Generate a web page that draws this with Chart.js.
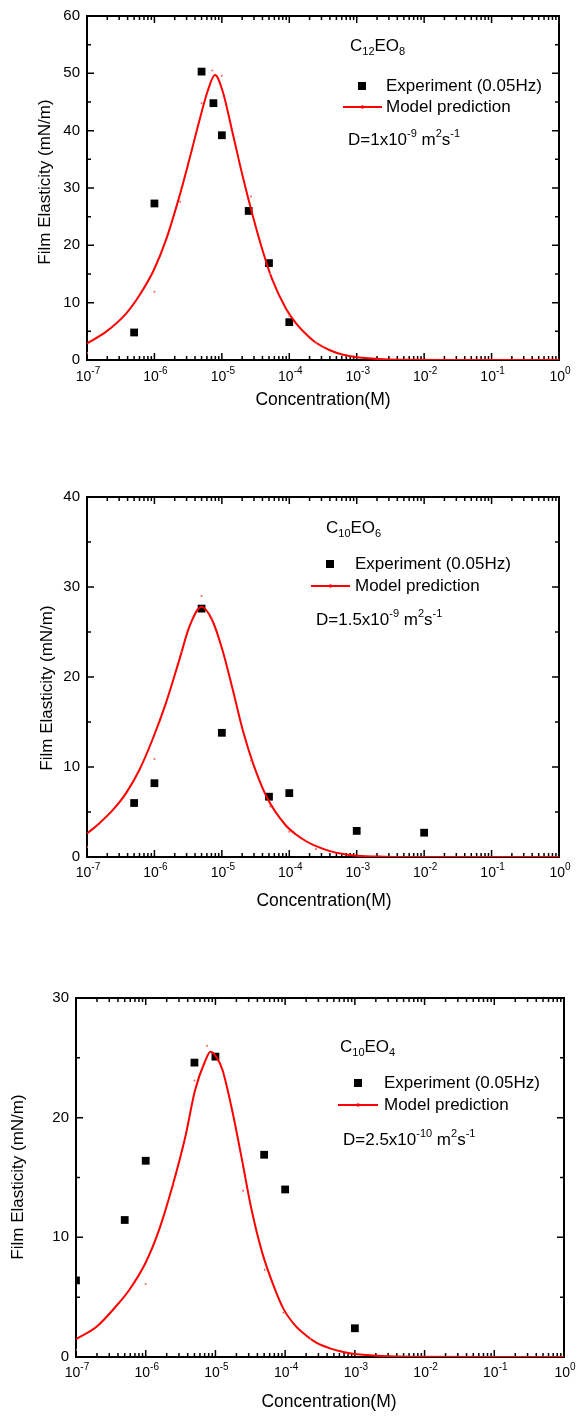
<!DOCTYPE html>
<html>
<head>
<meta charset="utf-8">
<script src="https://cdn.jsdelivr.net/npm/chart.js@4.4.1/dist/chart.umd.min.js"></script>
<style>
  html, body { margin: 0; padding: 0; background: #fff; }
  canvas { position: absolute; left: 0; }
</style>
</head>
<body>
<canvas id="grafico1" width="580" height="470" style="top:0"></canvas>
<canvas id="grafico2" width="580" height="470" style="top:470px"></canvas>
<canvas id="grafico3" width="580" height="476" style="top:940px"></canvas>
<script>
// Eixo x (log) comum aos três gráficos
const decadas = [-7, -6, -5, -4, -3, -2, -1, 0];

// C12EO8 - experimento
const expX1 = [5e-7, 1e-6, 5e-6, 7.5e-6, 1e-5, 2.5e-5, 5e-5, 1e-4];
const expY1 = [4.8, 27.3, 50.3, 44.8, 39.2, 26.0, 16.9, 6.6];
// C12EO8 - curva do modelo
const modX1 = [1e-7, 1.9e-7, 3.8e-7, 6e-7, 9.8e-7, 1.48e-6, 2.34e-6, 3.3e-6, 4.7e-6, 6.2e-6, 7.9e-6, 1.02e-5, 1.45e-5, 2.04e-5, 2.9e-5, 4e-5, 5.6e-5, 8.9e-5, 1.26e-4, 1.78e-4, 2.5e-4, 4e-4, 6.3e-4, 1e-3, 2.5e-3, 6.3e-3, 3.2e-2, 1e-1, 1];
const modY1 = [2.9, 4.9, 8.1, 11.3, 15.7, 20.9, 28.5, 35.0, 42.0, 47.0, 49.7, 47.0, 39.5, 32.0, 25.0, 19.2, 14.0, 9.0, 6.4, 4.5, 3.0, 1.7, 0.9, 0.5, 0.15, 0.05, 0.01, 0, 0];
// C12EO8 - pontos calculados do modelo
const ptsX1 = [1e-7, 1e-6, 2.4e-6, 5e-6, 7.2e-6, 1e-5, 2.7e-5, 5.2e-5, 1e-4, 2.5e-4];
const ptsY1 = [1.2, 11.9, 27.6, 44.8, 50.5, 49.6, 28.5, 15.1, 7.7, 2.9];

// C10EO6
const expX2 = [5e-7, 1e-6, 5e-6, 1e-5, 5e-5, 1e-4, 1e-3, 1e-2];
const expY2 = [6.0, 8.2, 27.6, 13.8, 6.7, 7.1, 2.9, 2.7];
const modX2 = [1e-7, 1.5e-7, 2.4e-7, 3.8e-7, 6e-7, 9.3e-7, 1.48e-6, 2.34e-6, 3.3e-6, 5e-6, 7.2e-6, 1.02e-5, 1.45e-5, 2.04e-5, 2.9e-5, 4.6e-5, 8.9e-5, 1.26e-4, 1.78e-4, 2.5e-4, 4e-4, 6.3e-4, 1e-3, 2.5e-3, 6.3e-3, 1e-1, 1];
const modY2 = [2.6, 3.7, 5.2, 7.1, 9.7, 13.0, 17.1, 21.9, 25.6, 27.8, 26.3, 23.0, 18.6, 14.1, 10.4, 6.7, 3.5, 2.5, 1.75, 1.2, 0.65, 0.33, 0.15, 0.04, 0.01, 0, 0];
const ptsX2 = [1e-7, 1e-6, 2.5e-6, 5e-6, 7.2e-6, 2.7e-5, 5.2e-5, 1e-4, 2.5e-4];
const ptsY2 = [1.1, 10.9, 22.8, 29.0, 26.5, 10.7, 5.6, 2.8, 0.9];

// C10EO4
const expX3 = [1e-7, 5e-7, 1e-6, 5e-6, 1e-5, 5e-5, 1e-4, 1e-3];
const expY3 = [6.4, 11.45, 16.4, 24.6, 25.1, 16.9, 14.0, 2.4];
const modX3 = [1e-7, 1.95e-7, 3.7e-7, 5.8e-7, 1e-6, 1.55e-6, 2.4e-6, 3.7e-6, 5.1e-6, 7.2e-6, 8.5e-6, 1.05e-5, 1.26e-5, 1.74e-5, 2.4e-5, 3.3e-5, 4.7e-5, 7.2e-5, 9.5e-5, 1.41e-4, 2e-4, 2.8e-4, 4.5e-4, 7.1e-4, 1e-3, 2.5e-3, 6.3e-3, 1e-1, 1];
const modY3 = [1.5, 2.5, 4.2, 5.6, 7.9, 10.6, 14.2, 18.4, 22.3, 24.8, 25.5, 25.0, 24.0, 20.6, 16.5, 12.3, 8.7, 5.6, 4.0, 2.6, 1.8, 1.2, 0.7, 0.4, 0.25, 0.08, 0.02, 0, 0];
const ptsX3 = [1e-7, 1e-6, 2.5e-6, 5e-6, 7.6e-6, 2.5e-5, 5.1e-5, 9.5e-5, 2.3e-4];
const ptsY3 = [0.6, 6.1, 14.3, 23.1, 26.0, 13.9, 7.3, 3.7, 1.5];

const FONTE = '"Liberation Sans", Arial, sans-serif';

function paraPontos(xs, ys) {
    return xs.map((x, i) => ({ x: x, y: ys[i] }));
}

// Texto com sub/sobrescritos: partes = [[texto, tamanho, deslocamentoY], ...]
function escrever(ctx, partes, x, y, alinhar) {
    let largura = 0;
    partes.forEach(p => {
        ctx.font = p[1] + 'px ' + FONTE;
        largura += ctx.measureText(p[0]).width;
    });
    let cx = x;
    if (alinhar === 'center') cx = x - largura / 2;
    if (alinhar === 'right') cx = x - largura;
    ctx.textAlign = 'left';
    ctx.textBaseline = 'middle';
    ctx.fillStyle = '#000';
    partes.forEach(p => {
        ctx.font = p[1] + 'px ' + FONTE;
        ctx.fillText(p[0], cx, y + (p[2] || 0));
        cx += ctx.measureText(p[0]).width;
    });
}

const pluginMoldura = {
    id: 'moldura',
    beforeDatasetsDraw(chart, args, op) {
        const ctx = chart.ctx;
        const a = chart.chartArea;
        const sx = chart.scales.x, sy = chart.scales.y;
        ctx.save();
        ctx.strokeStyle = '#000';
        ctx.lineWidth = 2;
        ctx.strokeRect(a.left, a.top, a.right - a.left, a.bottom - a.top);

        // marcas para dentro, nos quatro lados
        ctx.lineWidth = 1.5;
        ctx.beginPath();
        for (let v = 0; v <= op.yMax; v += op.yPasso / 2) {
            const y = sy.getPixelForValue(v);
            const len = (v % op.yPasso === 0) ? 7 : 4;
            ctx.moveTo(a.left, y); ctx.lineTo(a.left + len, y);
            ctx.moveTo(a.right, y); ctx.lineTo(a.right - len, y);
        }
        decadas.forEach(e => {
            for (let m = 1; m <= 9; m++) {
                const v = m * Math.pow(10, e);
                if (e === 0 && m > 1) break;
                const x = sx.getPixelForValue(v);
                const len = m === 1 ? 7 : 4;
                ctx.moveTo(x, a.bottom); ctx.lineTo(x, a.bottom - len);
                ctx.moveTo(x, a.top); ctx.lineTo(x, a.top + len);
            }
        });
        ctx.stroke();
        ctx.restore();
    },
    afterDraw(chart, args, op) {
        const ctx = chart.ctx;
        const a = chart.chartArea;
        const sx = chart.scales.x, sy = chart.scales.y;
        ctx.save();

        // rótulos do eixo y
        for (let v = 0; v <= op.yMax; v += op.yPasso) {
            escrever(ctx, [[String(v), 15]], a.left - 7, sy.getPixelForValue(v), 'right');
        }
        // rótulos do eixo x: 10 elevado ao expoente
        decadas.forEach(e => {
            escrever(ctx, [['10', 14], [String(e), 10, -6]], sx.getPixelForValue(Math.pow(10, e)) + 1, op.yRotX, 'center');
        });

        // títulos dos eixos
        escrever(ctx, [['Concentration(M)', 17.5]], op.tituloX[0], op.tituloX[1], 'center');
        ctx.save();
        ctx.translate(op.tituloY[0], op.tituloY[1]);
        ctx.rotate(-Math.PI / 2);
        escrever(ctx, [['Film Elasticity (mN/m)', 17]], 0, 0, 'center');
        ctx.restore();

        // nome do surfactante
        escrever(ctx, op.nome, op.posNome[0], op.posNome[1], 'left');

        // legenda
        const lg = op.legenda;
        ctx.fillStyle = '#000';
        ctx.fillRect(lg.quadrado[0] - 4, lg.quadrado[1] - 4, 8, 8);
        escrever(ctx, [['Experiment (0.05Hz)', 17]], lg.texto, lg.quadrado[1], 'left');
        ctx.strokeStyle = '#ff0000';
        ctx.lineWidth = 2;
        ctx.beginPath();
        ctx.moveTo(lg.linha[0], lg.linha[2]);
        ctx.lineTo(lg.linha[1], lg.linha[2]);
        ctx.stroke();
        ctx.fillStyle = '#ff0000';
        ctx.beginPath();
        ctx.arc((lg.linha[0] + lg.linha[1]) / 2, lg.linha[2], 1.8, 0, Math.PI * 2);
        ctx.fill();
        escrever(ctx, [['Model prediction', 17]], lg.texto, lg.linha[2], 'left');

        // coeficiente de difusão
        escrever(ctx, op.difusao, op.posDifusao[0], op.posDifusao[1], 'left');
        ctx.restore();
    }
};

function criarGrafico(id, exp, modelo, pontos, padding, extras) {
    return new Chart(document.getElementById(id), {
        type: 'scatter',
        data: {
            datasets: [
                {
                    label: 'Experiment (0.05Hz)',
                    data: exp,
                    pointStyle: 'rect',
                    pointRadius: 5.5,
                    backgroundColor: '#000',
                    borderColor: '#000',
                    borderWidth: 0,
                    clip: 0,
                    order: 2
                },
                {
                    label: 'Model prediction',
                    data: modelo,
                    showLine: true,
                    cubicInterpolationMode: 'monotone',
                    borderColor: '#ff0000',
                    borderWidth: 2,
                    pointRadius: 0,
                    order: 1
                },
                {
                    label: 'pontos do modelo',
                    data: pontos,
                    pointRadius: 1,
                    backgroundColor: '#ff6060',
                    borderColor: '#ff6060',
                    borderWidth: 0,
                    order: 0
                }
            ]
        },
        options: {
            responsive: false,
            animation: false,
            events: [],
            layout: { padding: padding },
            scales: {
                x: { type: 'logarithmic', min: 1e-7, max: 1, display: false },
                y: { min: 0, max: extras.yMax, display: false }
            },
            plugins: {
                legend: { display: false },
                tooltip: { enabled: false },
                moldura: extras
            }
        },
        plugins: [pluginMoldura]
    });
}

criarGrafico('grafico1', paraPontos(expX1, expY1), paraPontos(modX1, modY1), paraPontos(ptsX1, ptsY1),
    { left: 87, right: 21, top: 16, bottom: 110 },
    {
        yMax: 60, yPasso: 10, yRotX: 377,
        tituloX: [323, 400], tituloY: [45, 182],
        nome: [['C', 17], ['12', 11, 6], ['EO', 17], ['8', 11, 6]], posNome: [350, 46],
        legenda: { quadrado: [362, 86], texto: 386, linha: [343, 382, 107] },
        difusao: [['D=1x10', 17], ['-9', 11, -6], [' m', 17], ['2', 11, -6], ['s', 17], ['-1', 11, -6]],
        posDifusao: [348, 140]
    });

criarGrafico('grafico2', paraPontos(expX2, expY2), paraPontos(modX2, modY2), paraPontos(ptsX2, ptsY2),
    { left: 87, right: 21, top: 27, bottom: 83 },
    {
        yMax: 40, yPasso: 10, yRotX: 403,
        tituloX: [324, 431], tituloY: [47, 218],
        nome: [['C', 17], ['10', 11, 6], ['EO', 17], ['6', 11, 6]], posNome: [326, 58],
        legenda: { quadrado: [330, 94], texto: 355, linha: [311, 350, 116] },
        difusao: [['D=1.5x10', 17], ['-9', 11, -6], [' m', 17], ['2', 11, -6], ['s', 17], ['-1', 11, -6]],
        posDifusao: [316, 150]
    });

criarGrafico('grafico3', paraPontos(expX3, expY3), paraPontos(modX3, modY3), paraPontos(ptsX3, ptsY3),
    { left: 76, right: 16, top: 58, bottom: 59 },
    {
        yMax: 30, yPasso: 10, yRotX: 433,
        tituloX: [329, 462], tituloY: [18, 237],
        nome: [['C', 17], ['10', 11, 6], ['EO', 17], ['4', 11, 6]], posNome: [340, 107],
        legenda: { quadrado: [358, 143], texto: 384, linha: [338, 378, 165] },
        difusao: [['D=2.5x10', 17], ['-10', 11, -6], [' m', 17], ['2', 11, -6], ['s', 17], ['-1', 11, -6]],
        posDifusao: [343, 200]
    });
</script>
</body>
</html>
